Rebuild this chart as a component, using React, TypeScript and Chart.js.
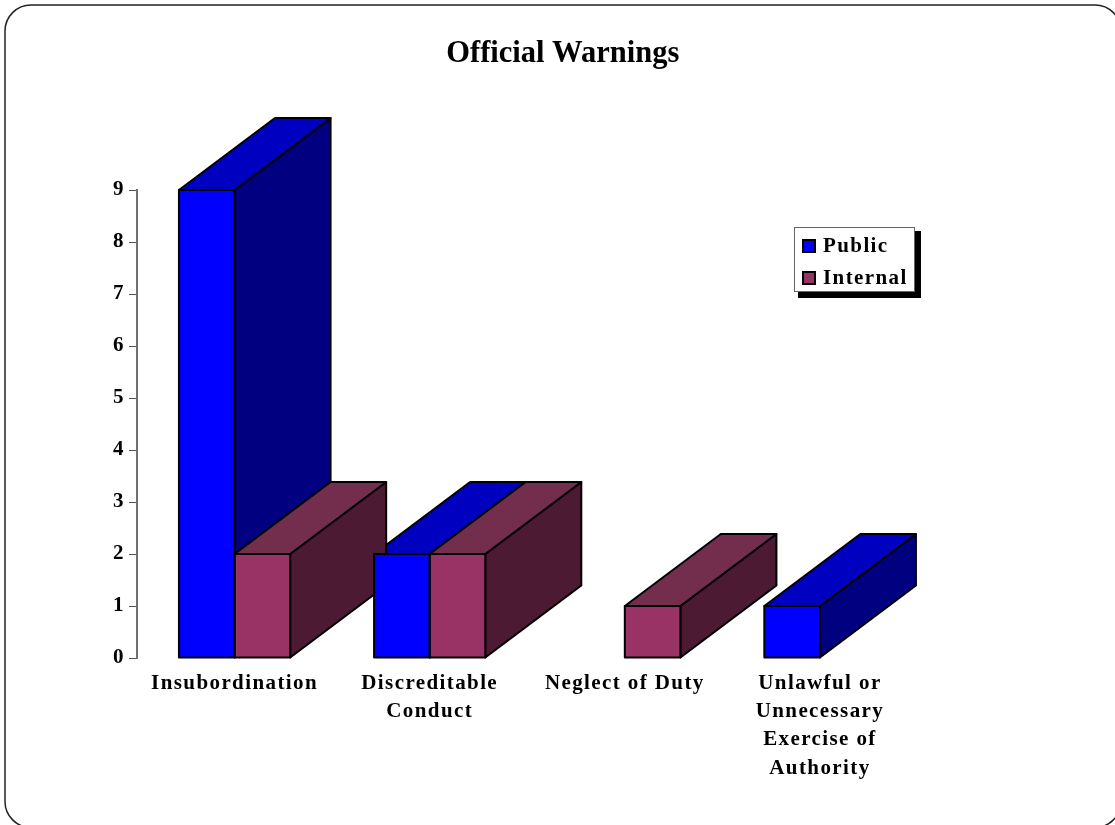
import React, { useEffect, useRef } from "react";
import { Chart, registerables } from "chart.js";

Chart.register(...registerables);

const chartTitle = "Official Warnings";
const categories: (string | string[])[] = [
  "Insubordination",
  ["Discreditable", "Conduct"],
  "Neglect of Duty",
  ["Unlawful or", "Unnecessary", "Exercise of", "Authority"],
];
const publicValues = [9, 2, null, 1];
const internalValues = [2, 2, 1, null];
const seriesNames = ["Public", "Internal"];
const frontColors = ["#0000FF", "#993366"];
const topColors = ["#0000C0", "#732D4D"];
const sideColors = ["#000080", "#4D1A33"];
const yTicks = { min: 0, max: 9, step: 1 };

const FONT = '"Liberation Serif", serif';
const DEPTH_X = 96;
const DEPTH_Y = 72;

function poly(ctx: CanvasRenderingContext2D, pts: number[][], fill: string | null) {
  ctx.beginPath();
  pts.forEach((p, i) => (i ? ctx.lineTo(p[0], p[1]) : ctx.moveTo(p[0], p[1])));
  ctx.closePath();
  if (fill) {
    ctx.fillStyle = fill;
    ctx.fill();
  }
  ctx.lineWidth = 2;
  ctx.lineJoin = "round";
  ctx.strokeStyle = "#000000";
  ctx.stroke();
}

const framePlugin = {
  id: "frame",
  beforeDraw(chart: any) {
    const ctx: CanvasRenderingContext2D = chart.ctx;
    ctx.save();
    ctx.fillStyle = "#FFFFFF";
    ctx.fillRect(0, 0, chart.width, chart.height);
    ctx.beginPath();
    ctx.roundRect(5, 5, 1116, 822.5, 26);
    ctx.lineWidth = 1.5;
    ctx.strokeStyle = "#222222";
    ctx.stroke();
    ctx.restore();
    (ctx as any).letterSpacing = "1.4px";
    const tb = chart.titleBlock;
    if (tb && !tb.__wrapped) {
      const draw = tb.draw;
      tb.draw = function () {
        ctx.save();
        (ctx as any).letterSpacing = "0px";
        draw.call(tb);
        ctx.restore();
      };
      tb.__wrapped = true;
    }
  },
};

function eachBar(chart: any, cb: (di: number, l: number, r: number, y: number, base: number) => void) {
  chart.data.datasets.forEach((_: any, di: number) => {
    chart.getDatasetMeta(di).data.forEach((bar: any, i: number) => {
      if (chart.data.datasets[di].data[i] == null) return;
      const { x, y, base, width } = bar.getProps(["x", "y", "base", "width"], true);
      cb(di, x - width / 2, x + width / 2, y, base);
    });
  });
}

const depthPlugin = {
  id: "depth",
  beforeDatasetsDraw(chart: any) {
    const ctx: CanvasRenderingContext2D = chart.ctx;
    ctx.save();
    eachBar(chart, (di, l, r, y, base) => {
      poly(ctx, [[r, y], [r + DEPTH_X, y - DEPTH_Y], [r + DEPTH_X, base - DEPTH_Y], [r, base]], sideColors[di]);
      poly(ctx, [[l, y], [l + DEPTH_X, y - DEPTH_Y], [r + DEPTH_X, y - DEPTH_Y], [r, y]], topColors[di]);
    });
    ctx.restore();
  },
  afterDatasetsDraw(chart: any) {
    const ctx: CanvasRenderingContext2D = chart.ctx;
    ctx.save();
    eachBar(chart, (_di, l, r, y, base) => {
      poly(ctx, [[l, y], [r, y], [r, base], [l, base]], null);
    });
    ctx.restore();
  },
};

const legendPlugin = {
  id: "boxLegend",
  afterDraw(chart: any) {
    const ctx: CanvasRenderingContext2D = chart.ctx;
    ctx.save();
    ctx.fillStyle = "#000000";
    ctx.fillRect(798, 231, 123, 67);
    ctx.fillStyle = "#FFFFFF";
    ctx.fillRect(795, 228, 120, 64);
    ctx.strokeStyle = "#666666";
    ctx.lineWidth = 1;
    ctx.strokeRect(794.5, 227.5, 120, 64);
    ctx.font = `bold 21px ${FONT}`;
    ctx.textBaseline = "alphabetic";
    ctx.textAlign = "left";
    (ctx as any).letterSpacing = "1.4px";
    chart.data.datasets.forEach((ds: any, i: number) => {
      const y = 240 + i * 32;
      ctx.fillStyle = ds.backgroundColor;
      ctx.fillRect(803, y, 12, 12);
      ctx.strokeStyle = "#000000";
      ctx.lineWidth = 2;
      ctx.strokeRect(803, y, 12, 12);
      ctx.fillStyle = "#000000";
      ctx.fillText(ds.label, 823, 252 + i * 32);
    });
    ctx.restore();
  },
};

export default function App() {
  const ref = useRef<HTMLCanvasElement>(null);

  useEffect(() => {
    document.body.style.margin = "0";
    document.body.style.background = "#FFFFFF";
    const chart = new Chart(ref.current as HTMLCanvasElement, {
      type: "bar",
      data: {
        labels: categories as any,
        datasets: [
          { label: seriesNames[0], data: publicValues as any, backgroundColor: frontColors[0] },
          { label: seriesNames[1], data: internalValues as any, backgroundColor: frontColors[1] },
        ],
      },
      options: {
        responsive: false,
        animation: false,
        layout: { padding: { left: 10.5, right: 0, top: 0, bottom: 0 } },
        datasets: {
          bar: {
            categoryPercentage: 0.57,
            barPercentage: 1,
            borderWidth: 0,
          },
        },
        plugins: {
          legend: { display: false },
          tooltip: { enabled: false },
          title: {
            display: true,
            text: chartTitle,
            color: "#000000",
            font: { family: FONT, size: 30.5, weight: "bold", lineHeight: 1.2 },
            padding: { top: 36, bottom: 117.4 },
          },
        },
        scales: {
          x: {
            grid: { display: false },
            border: { display: false },
            afterFit(scale: any) {
              scale.height = 167;
            },
            ticks: {
              color: "#000000",
              font: { family: FONT, size: 21, weight: "bold", lineHeight: 1.35 },
              maxRotation: 0,
              minRotation: 0,
              autoSkip: false,
              padding: 3,
            },
          },
          y: {
            min: yTicks.min,
            max: yTicks.max,
            afterFit(scale: any) {
              scale.width = 126.5;
            },
            grid: { drawOnChartArea: false, tickLength: 8, tickColor: "#555555", tickWidth: 1 },
            border: { display: true, color: "#707070", width: 2 },
            ticks: {
              stepSize: yTicks.step,
              color: "#000000",
              font: { family: FONT, size: 21, weight: "bold" },
              padding: 4,
            },
          },
          spacer: {
            type: "linear",
            position: "right",
            display: true,
            grid: { display: false },
            border: { display: false },
            ticks: { display: false },
            afterFit(scale: any) {
              scale.width = 197.5;
            },
          },
        },
      } as any,
      plugins: [framePlugin, depthPlugin, legendPlugin],
    });
    return () => chart.destroy();
  }, []);

  return (
    <div style={{ position: "fixed", left: 0, top: 0, width: 1115, height: 825, overflow: "hidden" }}>
      <canvas ref={ref} width={1115} height={825} style={{ display: "block" }} />
    </div>
  );
}
